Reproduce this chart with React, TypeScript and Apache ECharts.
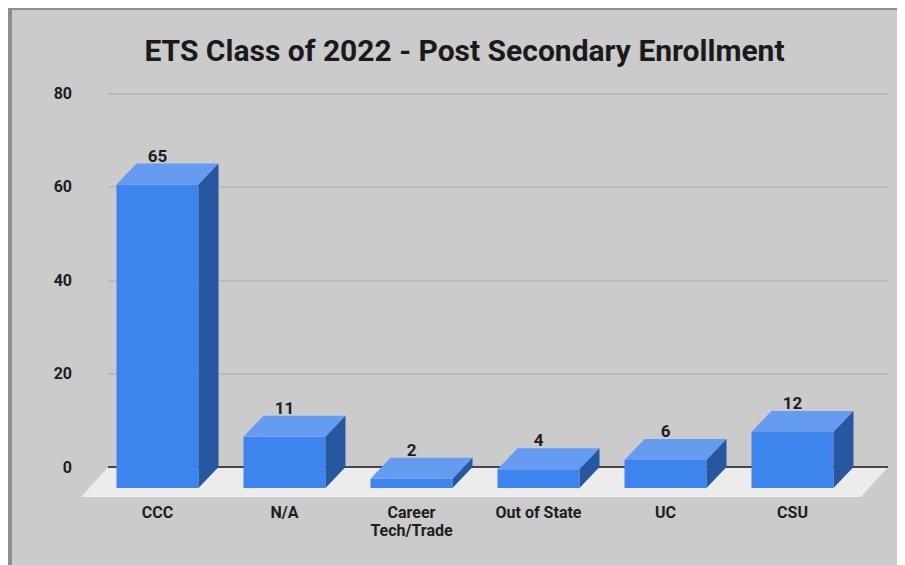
import React, { useEffect, useRef } from 'react';
import * as echarts from 'echarts';

const TITLE = 'ETS Class of 2022 - Post Secondary Enrollment';
const categories = ['CCC', 'N/A', 'Career\nTech/Trade', 'Out of State', 'UC', 'CSU'];
const values = [65, 11, 2, 4, 6, 12];
const Y_MIN = 0;
const Y_MAX = 80;
const Y_STEP = 20;

export default function App() {
  const ref = useRef<HTMLDivElement>(null);
  useEffect(() => {
    const chart = echarts.init(ref.current as HTMLDivElement, null, { renderer: 'svg' });
    const DX = 20;
    const DY = 21;
    const BAR_W = 82;
    const FDX = 27;
    const FDY = 30;
    const textStyle = { color: '#1e1e1e', fontFamily: 'Roboto', fontWeight: 'bold' as const };

    chart.setOption({
      animation: false,
      backgroundColor: '#cbcbcb',
      grid: [
        { left: 100, right: 17, top: 85.5, bottom: 98 },
        { left: 86, right: 49, top: 106.5, bottom: 77 },
      ],
      xAxis: [
        { gridIndex: 0, type: 'category', data: categories, show: false },
        {
          gridIndex: 1,
          type: 'category',
          data: categories,
          axisLine: { show: false },
          axisTick: { show: false },
          axisLabel: { ...textStyle, margin: 15, fontSize: 16, lineHeight: 18, interval: 0 },
        },
      ],
      yAxis: [
        {
          gridIndex: 0,
          type: 'value',
          min: Y_MIN,
          max: Y_MAX,
          interval: Y_STEP,
          axisLine: { show: false },
          axisTick: { show: false },
          axisLabel: { ...textStyle, margin: 36, fontSize: 16 },
          splitLine: { lineStyle: { color: '#b4b4b4', width: 1.5 } },
        },
        { gridIndex: 1, type: 'value', min: Y_MIN, max: Y_MAX, interval: Y_STEP, show: false },
      ],
      series: [
        {
          type: 'custom',
          xAxisIndex: 0,
          yAxisIndex: 0,
          z: 1,
          clip: false,
          data: [[0, 0]],
          renderItem: (params: any) => {
            const cs = params.coordSys;
            const yb = cs.y + cs.height;
            return {
              type: 'group',
              children: [
                {
                  type: 'polygon',
                  shape: {
                    points: [
                      [cs.x, yb],
                      [cs.x + cs.width, yb],
                      [cs.x + cs.width - FDX, yb + FDY],
                      [cs.x - FDX, yb + FDY],
                    ],
                  },
                  style: { fill: '#ececec' },
                },
                {
                  type: 'line',
                  shape: { x1: cs.x, y1: yb, x2: cs.x + cs.width, y2: yb },
                  style: { stroke: '#474747', lineWidth: 2 },
                },
              ],
            };
          },
        },
        {
          type: 'custom',
          xAxisIndex: 1,
          yAxisIndex: 1,
          z: 3,
          clip: false,
          data: values.map((v, i) => [i, v]),
          encode: { x: 0, y: 1 },
          renderItem: (params: any, api: any) => {
            const i = api.value(0);
            const v = api.value(1);
            const top = api.coord([i, v]);
            const bot = api.coord([i, 0]);
            const l = top[0] - BAR_W / 2;
            const r = top[0] + BAR_W / 2;
            const t = top[1];
            const b = bot[1];
            return {
              type: 'group',
              children: [
                {
                  type: 'rect',
                  shape: { x: l, y: t, width: BAR_W, height: b - t },
                  style: { fill: '#3d84ef' },
                },
                {
                  type: 'polygon',
                  shape: { points: [[l, t], [l + DX, t - DY], [r + DX, t - DY], [r, t]] },
                  style: { fill: '#659bf0' },
                },
                {
                  type: 'polygon',
                  shape: { points: [[r, t], [r + DX, t - DY], [r + DX, b - DY], [r, b]] },
                  style: { fill: '#27579f' },
                },
                {
                  type: 'text',
                  x: top[0],
                  y: t - DY - 8,
                  style: {
                    text: String(v),
                    textAlign: 'center',
                    textVerticalAlign: 'middle',
                    fill: '#1e1e1e',
                    fontFamily: 'Roboto',
                    fontWeight: 'bold',
                    fontSize: 17,
                  },
                },
              ],
            };
          },
        },
      ],
      graphic: [
        { type: 'rect', shape: { x: 0, y: 0, width: 4, height: 557 }, style: { fill: '#8e8e8e' }, z: 10 },
        { type: 'rect', shape: { x: 0, y: 0, width: 897, height: 2 }, style: { fill: '#8e8e8e' }, z: 10 },
        {
          type: 'text',
          x: 456.5,
          y: 42,
          style: {
            text: TITLE,
            textAlign: 'center',
            textVerticalAlign: 'middle',
            fill: '#1a1a1a',
            fontFamily: 'Roboto',
            fontWeight: 'bold',
            fontSize: 30,
          },
        },
      ],
    });
    return () => chart.dispose();
  }, []);
  return <div ref={ref} style={{ width: 897, height: 557 }} />;
}
